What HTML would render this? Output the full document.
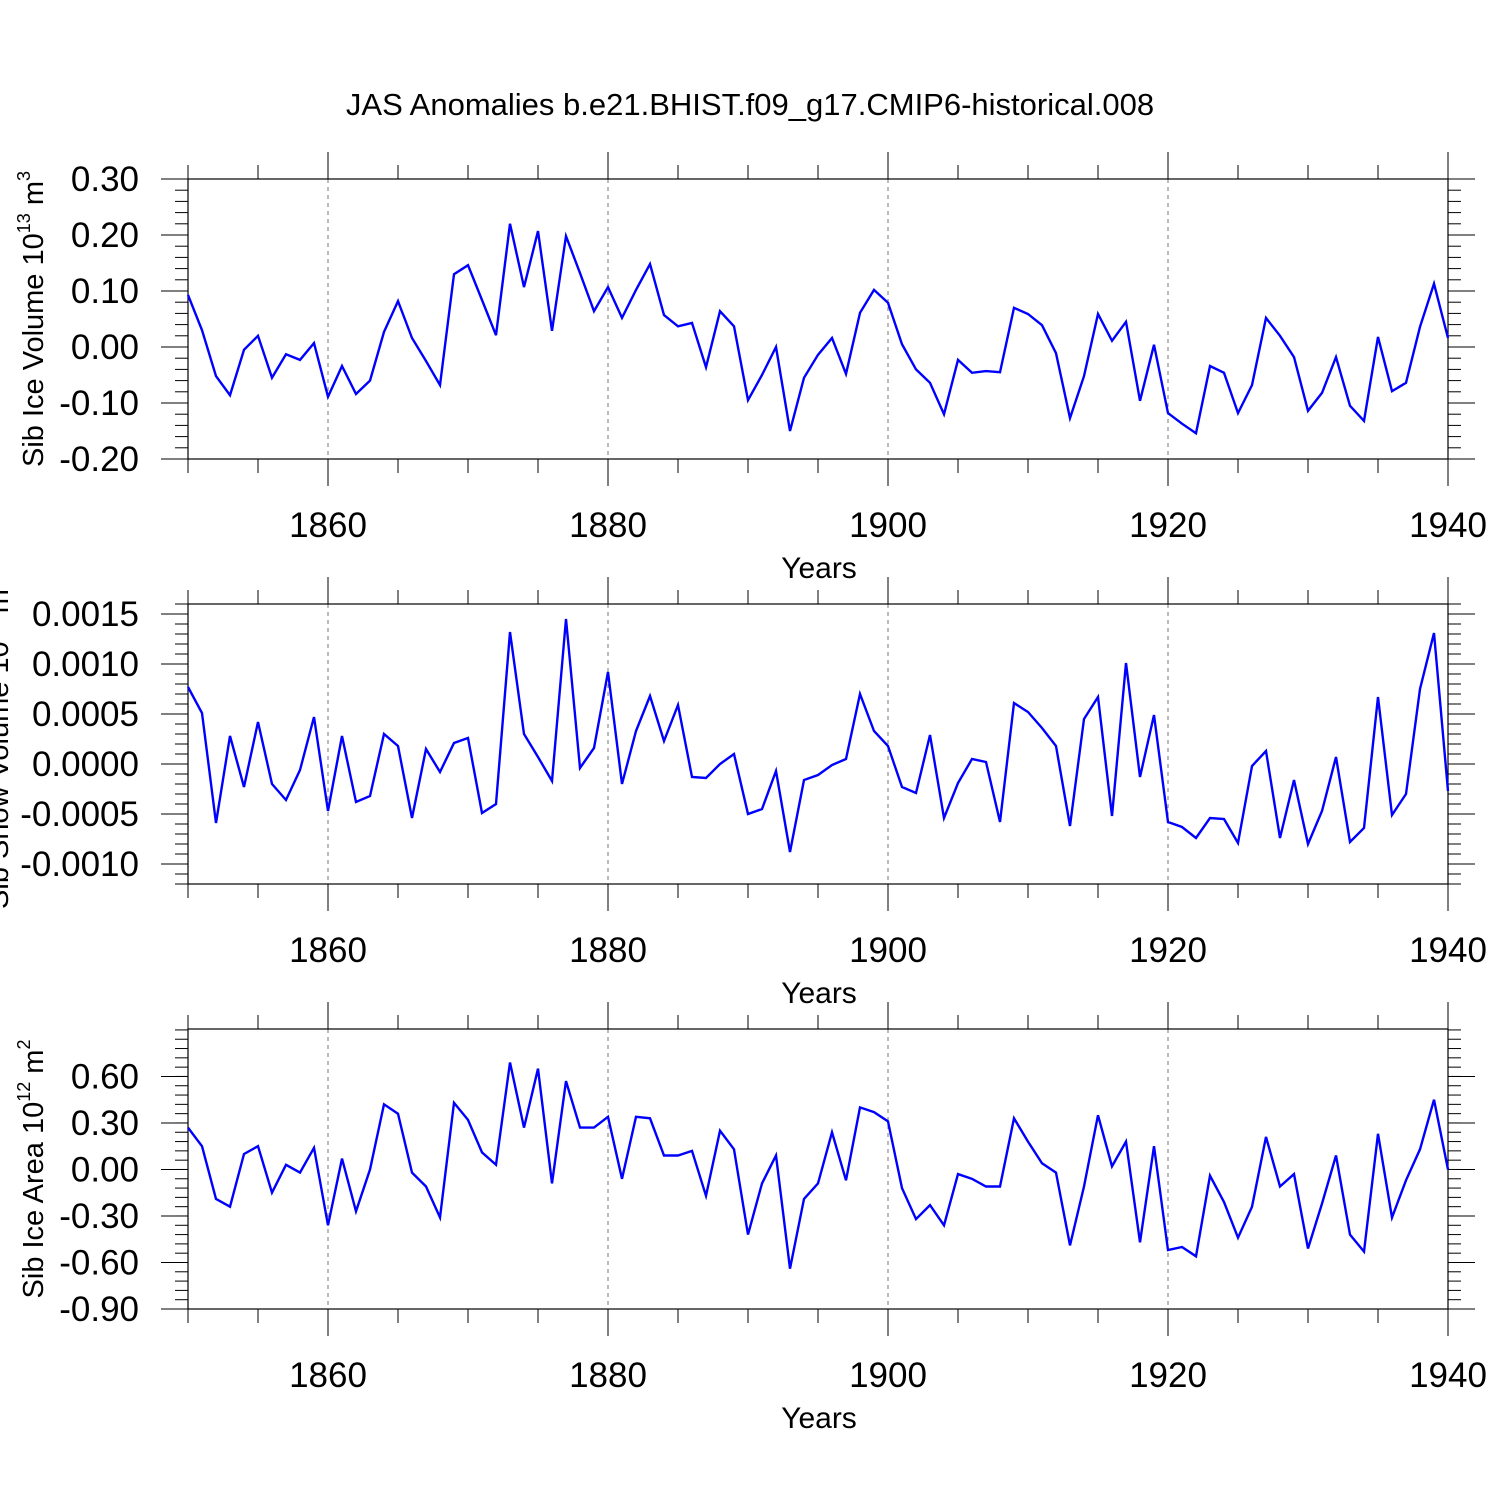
<!DOCTYPE html>
<html><head><meta charset="utf-8"><style>
html,body{margin:0;padding:0;background:#fff;}
svg{display:block;font-family:"Liberation Sans",sans-serif;}
</style></head><body>
<svg id="chart" width="1500" height="1500" xmlns="http://www.w3.org/2000/svg">
<text x="750" y="115" font-size="31" text-anchor="middle">JAS Anomalies b.e21.BHIST.f09_g17.CMIP6-historical.008</text>
</svg>
<script>
const startYear = 1850;
const iceVolume = [0.093,0.03,-0.052,-0.086,-0.005,0.02,-0.055,-0.013,-0.023,0.007,-0.089,-0.034,-0.084,-0.06,0.027,0.082,0.016,-0.025,-0.068,0.13,0.146,0.084,0.021,0.22,0.107,0.207,0.029,0.198,0.132,0.064,0.107,0.052,0.102,0.148,0.057,0.037,0.043,-0.036,0.064,0.037,-0.095,-0.05,0,-0.15,-0.055,-0.014,0.016,-0.048,0.061,0.102,0.079,0.005,-0.04,-0.064,-0.12,-0.023,-0.046,-0.043,-0.045,0.07,0.059,0.039,-0.011,-0.127,-0.052,0.059,0.011,0.045,-0.096,0.004,-0.118,-0.137,-0.154,-0.034,-0.046,-0.118,-0.068,0.052,0.02,-0.018,-0.114,-0.082,-0.018,-0.105,-0.132,0.018,-0.079,-0.064,0.036,0.113,0.016];
const snowVolume = [0.00077,0.00051,-0.00059,0.00028,-0.00023,0.00042,-0.0002,-0.00036,-0.00006,0.00047,-0.00047,0.00028,-0.00038,-0.00032,0.0003,0.00018,-0.00054,0.00015,-0.00008,0.00021,0.00026,-0.00049,-0.0004,0.00132,0.0003,0.00007,-0.00017,0.00145,-0.00004,0.00016,0.00092,-0.0002,0.00033,0.00068,0.00023,0.00059,-0.00013,-0.00014,0,0.0001,-0.0005,-0.00045,-0.00007,-0.00088,-0.00016,-0.00011,-0.00001,0.00005,0.0007,0.00033,0.00018,-0.00023,-0.00029,0.00029,-0.00054,-0.00019,0.00005,0.00002,-0.00058,0.00061,0.00052,0.00036,0.00018,-0.00062,0.00045,0.00067,-0.00052,0.00101,-0.00013,0.00049,-0.00058,-0.00063,-0.00074,-0.00054,-0.00055,-0.00079,-0.00002,0.00013,-0.00074,-0.00016,-0.0008,-0.00047,0.00007,-0.00078,-0.00064,0.00067,-0.00051,-0.0003,0.00075,0.00131,-0.00027];
const iceArea = [0.27,0.15,-0.19,-0.24,0.1,0.15,-0.15,0.03,-0.02,0.14,-0.36,0.07,-0.27,0,0.42,0.36,-0.02,-0.11,-0.31,0.43,0.32,0.11,0.03,0.69,0.27,0.65,-0.09,0.57,0.27,0.27,0.34,-0.06,0.34,0.33,0.09,0.09,0.12,-0.17,0.25,0.13,-0.42,-0.09,0.09,-0.64,-0.19,-0.09,0.24,-0.07,0.4,0.37,0.31,-0.12,-0.32,-0.23,-0.36,-0.03,-0.06,-0.11,-0.11,0.33,0.18,0.04,-0.02,-0.49,-0.11,0.35,0.02,0.18,-0.47,0.15,-0.52,-0.5,-0.56,-0.04,-0.21,-0.44,-0.24,0.21,-0.11,-0.03,-0.51,-0.22,0.09,-0.42,-0.53,0.23,-0.31,-0.07,0.13,0.45,0];
const xTickLabels = [1860,1880,1900,1920,1940];
const yTicks1 = ["0.30","0.20","0.10","0.00","-0.10","-0.20"];
const yTicks2 = ["0.0015","0.0010","0.0005","0.0000","-0.0005","-0.0010"];
const yTicks3 = ["0.60","0.30","0.00","-0.30","-0.60","-0.90"];

const svg = document.getElementById('chart');
const NS = 'http://www.w3.org/2000/svg';
function mk(tag, attrs, parent){const e=document.createElementNS(NS,tag);for(const k in attrs)e.setAttribute(k,attrs[k]);(parent||svg).appendChild(e);return e;}
const X0=188,X1=1448,Y0=1850,Y1=1940;
function xs(yr){return X0+(yr-Y0)/(Y1-Y0)*(X1-X0);}

function panel(opts){
  const {top,bottom,vmin,vmax,data,ticks,minorStep,name,title,sup,titleX,titleY} = opts;
  const g = mk('g',{});
  
  
  const ys = v => bottom-(v-vmin)/(vmax-vmin)*(bottom-top);
  [1860,1880,1900,1920].forEach(yr=>{
    const l=mk('line',{x1:xs(yr),x2:xs(yr),y1:top,y2:bottom,stroke:'#777','stroke-width':1,'stroke-dasharray':'4,4'},g);
    
    
  });
  for(let yr=1850; yr<=1940; yr+=5){
    const major = (yr-1860)%20===0;
    const len = major?27:14;
    const x=xs(yr);
    mk('line',{x1:x,x2:x,y1:top,y2:top-len,stroke:'#000','stroke-width':1},g);
    mk('line',{x1:x,x2:x,y1:bottom,y2:bottom+len,stroke:'#000','stroke-width':1},g);
  }
  xTickLabels.forEach(yr=>{
    const t=mk('text',{x:xs(yr),y:bottom+78,'font-size':35,'text-anchor':'middle'},g);
    t.textContent=yr;
    
    
  });
  const xt=mk('text',{x:819,y:bottom+119,'font-size':30,'text-anchor':'middle'},g);
  xt.textContent='Years';
  
  
  const nMin = Math.round((vmax-vmin)/minorStep);
  for(let i=0;i<=nMin;i++){
    const y=ys(vmin+i*minorStep);
    mk('line',{x1:X0-13,x2:X0,y1:y,y2:y,stroke:'#000','stroke-width':1},g);
    mk('line',{x1:X1,x2:X1+13,y1:y,y2:y,stroke:'#000','stroke-width':1},g);
  }
  ticks.forEach(lbl=>{
    const y=ys(parseFloat(lbl));
    mk('line',{x1:X0-27,x2:X0,y1:y,y2:y,stroke:'#000','stroke-width':1},g);
    mk('line',{x1:X1,x2:X1+27,y1:y,y2:y,stroke:'#000','stroke-width':1},g);
    const t=mk('text',{x:139,y:y+12,'font-size':35,'text-anchor':'end'},g);
    t.textContent=lbl;
    
    
  });
  const fr=mk('rect',{x:X0,y:top,width:X1-X0,height:bottom-top,fill:'none',stroke:'#000','stroke-width':1.2},g);
  
  
  const pts=data.map((v,i)=>xs(startYear+i).toFixed(1)+','+ys(v).toFixed(1)).join(' ');
  const pl=mk('polyline',{points:pts,fill:'none',stroke:'#0000ff','stroke-width':2.4,'stroke-linejoin':'miter'},g);
  
  
  const yt=mk('text',{x:0,y:0,'font-size':29,'text-anchor':'middle',transform:`translate(${titleX},${titleY}) rotate(-90)`},g);
  
  
  yt.appendChild(document.createTextNode(title));
  const s1=mk('tspan',{'font-size':18,dy:-13},yt); s1.textContent=sup[0];
  const s2=mk('tspan',{dy:13},yt); s2.textContent=' m';
  const s3=mk('tspan',{'font-size':18,dy:-13},yt); s3.textContent=sup[1];
}
panel({top:179,bottom:459,vmin:-0.2,vmax:0.3,data:iceVolume,ticks:yTicks1,minorStep:0.02,name:'ice-volume',title:'Sib Ice Volume 10',sup:['13','3'],titleX:43,titleY:319});
panel({top:604,bottom:884,vmin:-0.0012,vmax:0.0016,data:snowVolume,ticks:yTicks2,minorStep:0.0001,name:'snow-volume',title:'Sib Snow Volume 10',sup:['13','3'],titleX:8,titleY:744});
panel({top:1029,bottom:1309,vmin:-0.90,vmax:0.906,data:iceArea,ticks:yTicks3,minorStep:0.06,name:'ice-area',title:'Sib Ice Area 10',sup:['12','2'],titleX:43,titleY:1169});
</script>
</body></html>
